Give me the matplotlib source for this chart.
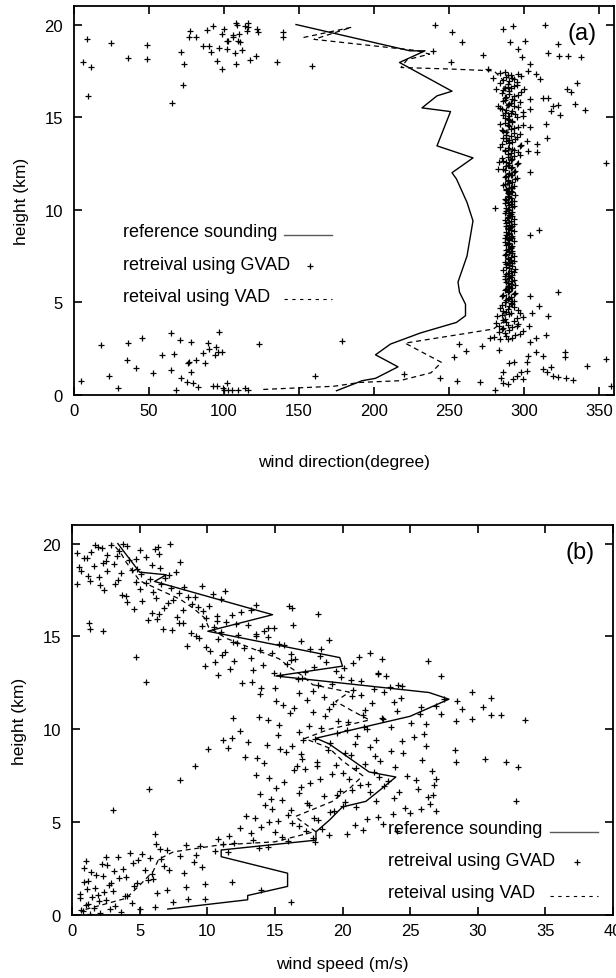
import matplotlib
matplotlib.use("Agg")
from matplotlib import pyplot as plt

plt.rcParams['font.family'] = ['Liberation Sans', 'DejaVu Sans']

# ---------------- panel (a): wind direction ----------------
ref_a_h = [20.0, 18.58, 18.58, 17.95, 16.4, 16.15, 15.5, 15.3, 13.45, 12.8, 12.0, 11.66,
           10.4, 9.4, 7.5, 6.1, 5.55, 4.9, 4.28, 3.92, 3.35, 2.75, 2.17, 1.52, 0.9, 0.77, 0.23]
ref_a_d = [148, 224, 234, 217, 252, 242, 232, 251, 242, 266, 252, 255,
           262, 266, 262, 256, 257, 261, 261, 255, 231, 211, 201, 216, 201, 192, 175]

vad_a_h = [19.3, 19.85, 19.2, 18.6, 18.4, 18.1, 17.68, 17.6, 17.5, 17.0, 16.0, 15.0, 14.0, 13.0,
           12.0, 11.0, 10.0, 9.0, 8.0, 7.0, 6.0, 5.0, 4.0, 3.56, 2.8, 1.76, 1.2, 0.77, 0.68, 0.47, 0.3]
vad_a_d = [153, 185, 160, 228, 237, 222, 218, 250, 280, 286, 288, 290, 289, 291,
           290, 289, 290, 288, 290, 291, 289, 288, 287, 279.5, 220.7, 245, 238, 217, 191, 173, 126]

# dense column of GVAD retrievals
col_h1 = [3.0, 3.1, 3.2, 3.3, 3.4, 3.5, 3.6, 3.7, 3.8, 3.9,
          4.0, 4.1, 4.2, 4.3, 4.4, 4.5, 4.6, 4.7, 4.8, 4.9,
          5.0, 5.1, 5.2, 5.3, 5.4, 5.5, 5.6, 5.7, 5.8, 5.9,
          6.0, 6.1, 6.2, 6.3, 6.4, 6.5, 6.6, 6.7, 6.8, 6.9,
          7.0, 7.1, 7.2, 7.3, 7.4, 7.5, 7.6, 7.7, 7.8, 7.9,
          8.0, 8.1, 8.2, 8.3, 8.4, 8.5, 8.6, 8.7, 8.8, 8.9,
          9.0, 9.1, 9.2, 9.3, 9.4, 9.5, 9.6, 9.7, 9.8, 9.9,
          10.0, 10.1, 10.2, 10.3, 10.4, 10.5, 10.6, 10.7, 10.8, 10.9,
          11.0, 11.1, 11.2, 11.3, 11.4, 11.5, 11.6, 11.7, 11.8, 11.9,
          12.0, 12.1, 12.2, 12.3, 12.4, 12.5, 12.6, 12.7, 12.8, 12.9,
          13.0, 13.1, 13.2, 13.3, 13.4, 13.5, 13.6, 13.7, 13.8, 13.9,
          14.0, 14.1, 14.2, 14.3, 14.4, 14.5, 14.6, 14.7, 14.8, 14.9,
          15.0, 15.1, 15.2, 15.3, 15.4, 15.5, 15.6, 15.7, 15.8, 15.9,
          16.0, 16.1, 16.2, 16.3, 16.4, 16.5, 16.6, 16.7, 16.8, 16.9,
          17.0, 17.1, 17.2, 17.3, 17.4]
col_d1 = [284, 292, 288, 297, 283, 290, 286, 295, 289, 281,
          293, 287, 299, 285, 291, 288, 296, 284, 290, 292,
          287, 293, 289, 291, 286, 294, 290, 288, 292, 289,
          291, 288, 293, 290, 287, 292, 289, 291, 294, 288,
          290, 292, 287, 291, 289, 293, 288, 290, 292, 289,
          291, 288, 290, 293, 289, 287, 292, 290, 288, 291,
          289, 292, 290, 288, 291, 293, 289, 290, 287, 292,
          290, 288, 293, 291, 289, 292, 287, 290, 294, 289,
          291, 288, 290, 293, 287, 292, 289, 295, 288, 291,
          290, 294, 286, 292, 289, 296, 288, 291, 285, 293,
          289, 296, 287, 292, 284, 298, 290, 288, 294, 286,
          291, 297, 288, 285, 293, 290, 299, 287, 292, 289,
          295, 286, 291, 299, 288, 284, 293, 290, 297, 287,
          292, 288, 296, 285, 290, 300, 287, 293, 289, 295,
          286, 292, 298, 289, 284]
col_h2 = [3.05, 3.15, 3.25, 3.35, 3.45, 3.55, 3.65, 3.75, 3.85, 3.95,
          4.05, 4.15, 4.25, 4.35, 4.45, 4.55, 4.65, 4.75, 4.85, 4.95,
          5.05, 5.15, 5.25, 5.35, 5.45, 5.55, 5.65, 5.75, 5.85, 5.95,
          6.05, 6.15, 6.25, 6.35, 6.45, 6.55, 6.65, 6.75, 6.85, 6.95,
          7.05, 7.15, 7.25, 7.35, 7.45, 7.55, 7.65, 7.75, 7.85, 7.95,
          8.05, 8.15, 8.25, 8.35, 8.45, 8.55, 8.65, 8.75, 8.85, 8.95,
          9.05, 9.15, 9.25, 9.35, 9.45, 9.55, 9.65, 9.75, 9.85, 9.95,
          10.05, 10.15, 10.25, 10.35, 10.45, 10.55, 10.65, 10.75, 10.85, 10.95,
          11.05, 11.15, 11.25, 11.35, 11.45, 11.55, 11.65, 11.75, 11.85, 11.95,
          12.05, 12.15, 12.25, 12.35, 12.45, 12.55, 12.65, 12.75, 12.85, 12.95,
          13.05, 13.15, 13.25, 13.35, 13.45, 13.55, 13.65, 13.75, 13.85, 13.95,
          14.05, 14.15, 14.25, 14.35, 14.45, 14.55, 14.65, 14.75, 14.85, 14.95,
          15.05, 15.15, 15.25, 15.35, 15.45, 15.55, 15.65, 15.75, 15.85, 15.95,
          16.05, 16.15, 16.25, 16.35, 16.45, 16.55, 16.65, 16.75, 16.85, 16.95,
          17.05, 17.15, 17.25, 17.35, 17.45]
col_d2 = [289, 280, 294, 287, 299, 285, 292, 283, 296, 288,
          286, 295, 282, 290, 297, 286, 289, 293, 285, 291,
          292, 288, 290, 285, 293, 289, 287, 291, 290, 294,
          289, 292, 287, 291, 290, 288, 293, 286, 290, 292,
          288, 290, 293, 289, 291, 287, 292, 290, 288, 291,
          292, 289, 287, 290, 292, 291, 288, 290, 293, 289,
          291, 288, 293, 290, 287, 289, 292, 291, 290, 288,
          289, 292, 290, 287, 293, 288, 291, 289, 290, 292,
          288, 292, 291, 286, 290, 289, 294, 287, 292, 290,
          293, 287, 291, 288, 295, 290, 286, 292, 289, 297,
          291, 287, 293, 289, 297, 285, 292, 290, 288, 295,
          288, 293, 286, 291, 296, 289, 284, 292, 290, 287,
          290, 294, 287, 292, 285, 296, 289, 291, 286, 293,
          287, 293, 290, 298, 286, 291, 289, 295, 284, 290,
          293, 288, 291, 296, 287]

# scattered GVAD retrievals away from the column
out_a_d = [8.4, 6.2, 11.1, 9.1, 24.7, 36.2, 48.4, 48.4, 65.1, 71.1, 73.3, 72.4, 77.3, 76.9,
           81.3, 86.2, 90.2, 88.4, 92.4, 91.3, 95.5, 98.4, 96.9, 98.4, 100, 101.8, 101.8, 102.9,
           105.8, 106.2, 107.1, 108, 108.4, 108, 109.5, 110.2, 110.7, 112.2, 114, 115.1, 116.2,
           116.2, 117.3, 121.3, 121.8, 122.9, 135.6, 139.1, 139.1, 158.9,
           240.7, 251.8, 258.4, 239.6, 251.1, 272.4, 276.2, 314, 322.9, 315.8, 323.6, 329.6,
           337.8, 335.1, 328.4, 331.1, 334, 340.7, 322.9, 319.1, 317.8, 324, 312.9, 316.2,
           310.7, 308, 314.7, 315.1, 354.7, 308.4, 308.9, 302.9, 304, 290.7, 285.8, 292.4,
           300.7, 296.2, 298.4, 304, 302.9, 279.6, 281.3, 282.9, 304, 304, 299.1, 304, 301.8,
           283.6, 282.9,
           280.7, 310.2, 304, 322.9, 178.4, 304, 310.2, 316.2, 305.1, 303.6, 314.7, 308, 304,
           256.9, 261.3, 271.8, 277.3, 253.3, 283.6, 290.2, 293.6, 301.8, 302.9, 308, 312.9,
           327.3, 327.3, 318, 312.9, 315.1, 319.6, 322.9, 327.8, 332.9, 341.8, 354.7, 358,
           286.2, 284.4, 285.8, 289.6, 280.7, 297.8, 301.8, 299.6, 295.1, 292.4, 270.7, 255.1,
           244, 220,
           4.5, 18, 23.6, 29.6, 35.6, 36.2, 41.3, 45.6, 52.4, 58.4, 64.4, 64.4, 66.9, 67.8,
           70.7, 71.1, 75.6, 76.2, 76.9, 78, 78, 79.1, 81.3, 82.4, 86.2, 87.6, 89.1, 90, 94.7,
           94.2, 95.8, 98.4, 96.9, 92.4, 95.1, 99.6, 100.2, 101.8, 102.9, 105.1, 109.6, 114,
           116.2, 123.6, 160.7]
out_a_h = [19.2, 18.0, 17.7, 16.15, 18.98, 18.17, 18.9, 18.13, 15.76, 18.53, 17.86, 16.73, 19.66, 19.3,
           19.3, 18.85, 18.85, 19.71, 19.93, 18.49, 18.02, 17.59, 18.73, 19.51, 19.78, 19.12, 18.67, 19.12,
           19.43, 19.35, 18.46, 17.86, 19.97, 20.06, 19.12, 19.51, 19.07, 18.65, 19.9, 19.66, 20.08,
           19.84, 18.1, 18.28, 19.75, 19.6, 17.95, 19.57, 19.33, 17.77,
           19.97, 19.57, 19.03, 18.58, 18.0, 18.35, 17.59, 19.98, 18.94, 18.44, 18.31, 18.31,
           18.22, 16.87, 16.51, 16.37, 15.7, 15.38, 15.65, 15.58, 15.34, 15.11, 16.01, 16.01,
           17.05, 17.32, 14.62, 13.9, 12.52, 13.54, 13.1, 13.18, 12.02, 19.03, 19.78, 19.93,
           19.12, 18.67, 18.22, 17.86, 17.5, 17.09, 16.51, 15.61, 15.43, 15.97, 15.07, 14.45, 13.72,
           12.56, 12.2,
           10.07, 8.92, 8.63, 5.58, 2.93, 5.32, 4.79, 4.28, 4.4, 3.7, 3.24, 3.06, 2.84,
           2.75, 2.39, 2.66, 3.06, 2.03, 2.44, 1.72, 1.8, 1.8, 2.12, 2.3, 2.12,
           2.3, 2.03, 1.49, 1.4, 1.22, 1.04, 0.95, 0.9, 0.81, 1.55, 1.94, 0.47,
           1.22, 0.9, 0.65, 0.59, 0.29, 1.22, 1.31, 0.86, 1.04, 0.86, 0.72, 0.77,
           0.9, 1.13,
           0.74, 2.72, 1.04, 0.36, 1.91, 2.81, 1.44, 3.06, 1.19, 2.18, 3.33, 1.37, 2.21, 0.25,
           2.97, 0.9, 0.72, 1.73, 1.8, 2.86, 1.22, 0.65, 1.87, 0.43, 2.28, 1.75, 2.81, 2.5, 2.59,
           2.18, 2.3, 2.3, 3.41, 0.5, 0.5, 0.38, 0.25, 0.65, 0.29, 0.29, 0.29, 0.38,
           0.29, 2.77, 1.04]

# ---------------- panel (b): wind speed ----------------
ref_b_h = [20.0, 18.46, 18.32, 17.96, 16.17, 15.28, 13.86, 13.4, 12.87, 11.98, 11.62, 10.7,
           9.52, 9.21, 7.7, 7.43, 6.77, 6.12, 5.82, 5.1, 4.48, 4.03, 3.5, 3.14, 2.25, 1.54,
           1.05, 0.82, 0.32]
ref_b_v = [3.39, 5.0, 6.97, 6.1, 14.83, 10.04, 19.8, 20.0, 15.08, 26.4, 27.87, 25.0,
           18.04, 19.02, 21.97, 23.94, 22.84, 21.73, 20.0, 19.02, 18.04, 18.04, 11.03, 11.03,
           15.94, 15.94, 12.99, 12.99, 7.08]

vad_b_h = [0.3, 0.9, 1.6, 2.35, 3.0, 3.4, 3.77, 3.94, 4.5, 5.3, 6.1, 6.8, 7.5, 8.3, 9.0, 9.5,
           10.0, 10.5, 11.0, 11.5, 12.0, 12.4, 12.9, 13.4, 13.8, 14.3, 14.9, 15.5, 16.0, 16.5,
           17.0, 17.5, 18.0, 18.5, 19.0, 19.5, 20.0]
vad_b_v = [1.0, 4.0, 5.0, 6.0, 6.4, 7.5, 10.9, 15.0, 18.0, 16.5, 19.2, 20.5, 21.5, 20.0, 19.0, 17.2,
           19.0, 22.0, 20.7, 19.5, 20.5, 17.8, 17.0, 16.0, 15.3, 13.5, 11.4, 10.1, 9.8, 9.0,
           8.0, 6.5, 5.0, 4.5, 4.0, 3.6, 3.0]

gv_h1 = [0.1, 0.2, 0.3, 0.4, 0.5, 0.6, 0.7, 0.8, 0.9, 1.0,
         1.1, 1.2, 1.3, 1.4, 1.5, 1.6, 1.7, 1.8, 1.9, 2.0,
         2.1, 2.2, 2.3, 2.4, 2.5, 2.6, 2.7, 2.8, 2.9, 3.0,
         3.1, 3.2, 3.3, 3.4, 3.5, 3.6, 3.7, 3.8, 3.9, 4.0,
         4.1, 4.2, 4.3, 4.4, 4.5, 4.6, 4.7, 4.8, 4.9, 5.0,
         5.1, 5.2, 5.3, 5.4, 5.5, 5.6, 5.7, 5.8, 5.9, 6.0,
         6.1, 6.2, 6.3, 6.4, 6.5, 6.6, 6.7, 6.8, 6.9, 7.0,
         7.1, 7.2, 7.3, 7.4, 7.5, 7.6, 7.7, 7.8, 7.9, 8.0,
         8.1, 8.2, 8.3, 8.4, 8.5, 8.6, 8.7, 8.8, 8.9, 9.0,
         9.1, 9.2, 9.3, 9.4, 9.5, 9.6, 9.7, 9.8, 9.9, 10.0,
         10.1, 10.2, 10.3, 10.4, 10.5, 10.6, 10.7, 10.8, 10.9, 11.0,
         11.1, 11.2, 11.3, 11.4, 11.5, 11.6, 11.7, 11.8, 11.9, 12.0,
         12.1, 12.2, 12.3, 12.4, 12.5, 12.6, 12.7, 12.8, 12.9, 13.0,
         13.1, 13.2, 13.3, 13.4, 13.5, 13.6, 13.7, 13.8, 13.9, 14.0,
         14.1, 14.2, 14.3, 14.4, 14.5, 14.6, 14.7, 14.8, 14.9, 15.0,
         15.1, 15.2, 15.3, 15.4, 15.5, 15.6, 15.7, 15.8, 15.9, 16.0,
         16.1, 16.2, 16.3, 16.4, 16.5, 16.6, 16.7, 16.8, 16.9, 17.0,
         17.1, 17.2, 17.3, 17.4, 17.5, 17.6, 17.7, 17.8, 17.9, 18.0,
         18.1, 18.2, 18.3, 18.4, 18.5, 18.6, 18.7, 18.8, 18.9, 19.0,
         19.1, 19.2, 19.3, 19.4, 19.5, 19.6, 19.7, 19.8, 19.9, 20.0]
gv_v1 = [2.1, 0.8, 5.0, 1.6, 3.2, 1.2, 7.5, 2.5, 0.6, 4.1,
         1.9, 6.3, 3.0, 1.1, 8.4, 2.7, 4.8, 0.9, 5.6, 3.5,
         2.3, 5.9, 1.4, 7.2, 3.8, 9.6, 2.6, 4.5, 1.0, 6.6,
         3.4, 8.0, 5.2, 11.5, 7.0, 13.8, 9.5, 6.2, 12.0, 16.0,
         10.8, 15.5, 19.0, 13.2, 17.3, 21.5, 12.4, 16.8, 23.0, 14.6,
         18.2, 13.5, 22.6, 16.0, 25.0, 19.4, 14.8, 21.0, 17.5, 26.5,
         20.2, 15.5, 23.8, 18.6, 13.9, 22.0, 19.8, 25.6, 16.9, 21.3,
         17.6, 23.4, 20.5, 14.6, 24.8, 19.2, 22.3, 16.4, 21.0, 18.1,
         19.5, 14.2, 22.8, 17.0, 12.8, 20.6, 24.5, 15.8, 18.9, 11.5,
         16.3, 20.9, 13.0, 22.5, 18.0, 25.3, 15.2, 19.6, 12.4, 21.8,
         23.6, 17.5, 26.2, 20.4, 14.5, 22.9, 18.7, 27.3, 16.1, 24.0,
         19.0, 25.8, 15.6, 22.2, 28.5, 17.4, 24.3, 20.7, 13.9, 23.1,
         20.8, 15.0, 23.5, 18.2, 12.6, 21.4, 16.7, 19.9, 10.8, 22.6,
         17.2, 13.4, 20.1, 9.8, 15.9, 18.8, 12.0, 16.5, 21.2, 11.1,
         14.8, 10.2, 17.6, 12.7, 8.5, 15.3, 11.9, 19.0, 9.4, 13.6,
         12.3, 8.8, 14.2, 6.7, 10.5, 13.0, 7.9, 11.4, 5.6, 9.9,
         10.7, 6.4, 12.5, 8.2, 4.6, 9.3, 13.6, 7.1, 5.2, 11.0,
         8.6, 4.0, 10.4, 6.0, 2.4, 7.3, 9.6, 3.2, 5.5, 1.3,
         5.8, 2.0, 7.2, 3.6, 0.7, 4.4, 6.5, 1.6, 3.1, 8.0,
         4.2, 1.1, 5.5, 2.6, 0.4, 3.5, 6.1, 1.9, 2.9, 3.8]
gv_h2 = [0.05, 0.15, 0.25, 0.35, 0.45, 0.55, 0.65, 0.75, 0.85, 0.95,
         1.05, 1.15, 1.25, 1.35, 1.45, 1.55, 1.65, 1.75, 1.85, 1.95,
         2.05, 2.15, 2.25, 2.35, 2.45, 2.55, 2.65, 2.75, 2.85, 2.95,
         3.05, 3.15, 3.25, 3.35, 3.45, 3.55, 3.65, 3.75, 3.85, 3.95,
         4.05, 4.15, 4.25, 4.35, 4.45, 4.55, 4.65, 4.75, 4.85, 4.95,
         5.05, 5.15, 5.25, 5.35, 5.45, 5.55, 5.65, 5.75, 5.85, 5.95,
         6.05, 6.15, 6.25, 6.35, 6.45, 6.55, 6.65, 6.75, 6.85, 6.95,
         7.05, 7.15, 7.25, 7.35, 7.45, 7.55, 7.65, 7.75, 7.85, 7.95,
         8.05, 8.15, 8.25, 8.35, 8.45, 8.55, 8.65, 8.75, 8.85, 8.95,
         9.05, 9.15, 9.25, 9.35, 9.45, 9.55, 9.65, 9.75, 9.85, 9.95,
         10.05, 10.15, 10.25, 10.35, 10.45, 10.55, 10.65, 10.75, 10.85, 10.95,
         11.05, 11.15, 11.25, 11.35, 11.45, 11.55, 11.65, 11.75, 11.85, 11.95,
         12.05, 12.15, 12.25, 12.35, 12.45, 12.55, 12.65, 12.75, 12.85, 12.95,
         13.05, 13.15, 13.25, 13.35, 13.45, 13.55, 13.65, 13.75, 13.85, 13.95,
         14.05, 14.15, 14.25, 14.35, 14.45, 14.55, 14.65, 14.75, 14.85, 14.95,
         15.05, 15.15, 15.25, 15.35, 15.45, 15.55, 15.65, 15.75, 15.85, 15.95,
         16.05, 16.15, 16.25, 16.35, 16.45, 16.55, 16.65, 16.75, 16.85, 16.95,
         17.05, 17.15, 17.25, 17.35, 17.45, 17.55, 17.65, 17.75, 17.85, 17.95,
         18.05, 18.15, 18.25, 18.35, 18.45, 18.55, 18.65, 18.75, 18.85, 18.95,
         19.05, 19.15, 19.25, 19.35, 19.45, 19.55, 19.65, 19.75, 19.85, 19.95]
gv_v2 = [1.3, 3.6, 0.7, 2.8, 6.1, 1.0, 4.4, 2.0, 8.6, 1.5,
         3.9, 0.6, 2.4, 7.0, 1.7, 4.6, 9.8, 2.9, 1.2, 6.0,
         4.0, 1.8, 8.3, 3.1, 5.4, 0.9, 6.8, 2.2, 9.0, 4.9,
         5.8, 2.5, 9.2, 4.3, 10.6, 6.5, 14.5, 8.4, 11.2, 18.0,
         13.4, 17.8, 11.6, 20.3, 15.0, 24.0, 18.5, 14.0, 20.9, 16.3,
         15.2, 21.8, 17.9, 12.9, 23.7, 19.1, 16.2, 24.6, 20.0, 14.3,
         17.4, 22.5, 14.7, 26.3, 19.6, 16.8, 24.2, 20.7, 15.1, 23.1,
         21.9, 15.7, 25.4, 18.3, 22.7, 13.6, 20.0, 26.6, 17.2, 23.9,
         16.6, 21.7, 18.1, 25.9, 13.7, 22.4, 16.9, 20.2, 23.6, 15.4,
         22.0, 14.4, 19.1, 24.4, 17.1, 11.8, 21.1, 26.0, 16.8, 20.3,
         18.4, 21.6, 15.3, 25.1, 19.7, 23.0, 13.8, 21.5, 25.7, 17.8,
         21.7, 16.4, 26.9, 19.3, 23.8, 15.1, 27.5, 18.6, 21.4, 16.8,
         17.8, 22.3, 14.0, 24.4, 19.2, 13.3, 20.6, 17.0, 23.2, 15.4,
         14.9, 19.5, 11.7, 17.9, 14.1, 20.8, 10.6, 16.2, 13.2, 18.3,
         16.2, 11.3, 13.9, 18.4, 9.9, 15.7, 12.2, 16.9, 10.8, 14.5,
         9.2, 13.6, 11.0, 7.4, 14.9, 9.6, 12.1, 8.2, 10.7, 6.3,
         7.8, 11.8, 5.9, 9.7, 13.2, 6.8, 10.1, 8.9, 4.1, 7.5,
         6.2, 9.1, 3.7, 7.9, 11.3, 5.0, 8.3, 2.1, 6.6, 4.7,
         3.4, 6.9, 1.2, 5.1, 7.7, 2.6, 4.8, 0.5, 5.9, 2.3,
         2.5, 4.7, 0.9, 3.3, 6.4, 1.4, 5.0, 2.2, 4.1, 1.7]
out_b_v = [32.8, 33.5, 32.1, 33.0, 30.5, 28.8, 29.6, 31.0, 30.4, 30.95, 31.7, 26.3, 27.3, 22.0,
           22.9, 22.6, 24.1, 7.26, 6.35, 18.16, 16.07, 16.3, 14.5, 16.36, 5.44, 4.7, 1.36, 1.25,
           2.29, 0.35, 3.03, 5.73, 6.1, 11.8, 14.0, 16.2, 9.8, 11.9, 10.06, 11.2, 9.13, 7.95,
           28.4, 28.3, 28.4, 29.6, 26.2, 25.8, 26.9, 26.9, 26.8, 26.7]
out_b_h = [6.14, 10.5, 8.23, 7.96, 8.4, 11.09, 12.0, 11.7, 11.2, 10.77, 10.77, 13.67, 12.87, 14.1,
           13.77, 13.05, 12.4, 19.98, 19.83, 16.23, 16.66, 16.53, 15.46, 15.59, 12.55, 13.9, 15.4, 15.73,
           15.28, 17.8, 5.64, 6.8, 4.34, 1.8, 1.32, 0.7, 0.88, 10.6, 8.94, 9.44, 8.0, 7.25,
           8.23, 8.89, 10.46, 10.55, 9.12, 5.73, 5.6, 7.34, 7.0, 6.48]

W, H = 616, 979
fig = plt.figure(figsize=(W / 100, H / 100), dpi=100)
ax1 = fig.add_axes([74 / W, 1 - 396 / H, 540 / W, 389 / H])
ax2 = fig.add_axes([72 / W, 1 - 916 / H, 541 / W, 390 / H])

pt = dict(marker='+', s=14, c='k', linewidths=0.9)
dash = (4, 3)

# (a)
ax1.scatter(col_d1, col_h1, **pt)
ax1.scatter(col_d2, col_h2, **pt)
ax1.scatter(out_a_d, out_a_h, **pt)
ax1.plot(ref_a_d, ref_a_h, color='k', lw=1.0)
ax1.plot(vad_a_d, vad_a_h, color='k', lw=0.9, dashes=dash)
ax1.set_xlim(0, 360)
ax1.set_ylim(0, 21)
ax1.set_xticks([0, 50, 100, 150, 200, 250, 300, 350])
ax1.set_yticks([0, 5, 10, 15, 20])
ax1.set_xlabel("wind direction(degree)", fontsize=12.5, labelpad=26)
ax1.set_ylabel("height (km)", fontsize=12.5, labelpad=11)
ax1.text(0.94, 0.93, "(a)", transform=ax1.transAxes, fontsize=17, ha='center', va='center')

# (b)
ax2.scatter(gv_v1, gv_h1, **pt)
ax2.scatter(gv_v2, gv_h2, **pt)
ax2.scatter(out_b_v, out_b_h, **pt)
ax2.plot(ref_b_v, ref_b_h, color='k', lw=1.0)
ax2.plot(vad_b_v, vad_b_h, color='k', lw=0.9, dashes=dash)
ax2.set_xlim(0, 40)
ax2.set_ylim(0, 21)
ax2.set_xticks([0, 5, 10, 15, 20, 25, 30, 35, 40])
ax2.set_yticks([0, 5, 10, 15, 20])
ax2.set_xlabel("wind speed (m/s)", fontsize=12.5, labelpad=13)
ax2.set_ylabel("height (km)", fontsize=12.5, labelpad=11)
ax2.text(0.94, 0.93, "(b)", transform=ax2.transAxes, fontsize=17, ha='center', va='center')

legend_pos = {ax1: (0.090, 0.388, 0.477, [0.420, 0.336, 0.254]),
              ax2: (0.585, 0.884, 0.973, [0.222, 0.140, 0.058])}
labels = ["reference sounding", "retreival using GVAD", "reteival using VAD"]
for ax, (tx, l0, l1, ys) in legend_pos.items():
    for lab, y in zip(labels, ys):
        ax.text(tx, y, lab, transform=ax.transAxes, fontsize=13, ha='left', va='center')
    ax.plot([l0, l1], [ys[0] - 0.008, ys[0] - 0.008], transform=ax.transAxes, color='0.35', lw=1.0)
    ax.scatter([(l0 + l1) / 2 + 0.005], [ys[1] - 0.004], transform=ax.transAxes, **pt)
    ax.plot([l0, l1], [ys[2] - 0.008, ys[2] - 0.008], transform=ax.transAxes, color='k', lw=0.8,
            dashes=(3, 4))

for ax in (ax1, ax2):
    ax.tick_params(direction='in', length=6, width=1.2, top=True, right=True, labelsize=12)
    ax.tick_params(axis='x', pad=6)
    ax.tick_params(axis='y', pad=8)
    for sp in ax.spines.values():
        sp.set_linewidth(1.3)

fig.savefig("out.png", dpi=100)
